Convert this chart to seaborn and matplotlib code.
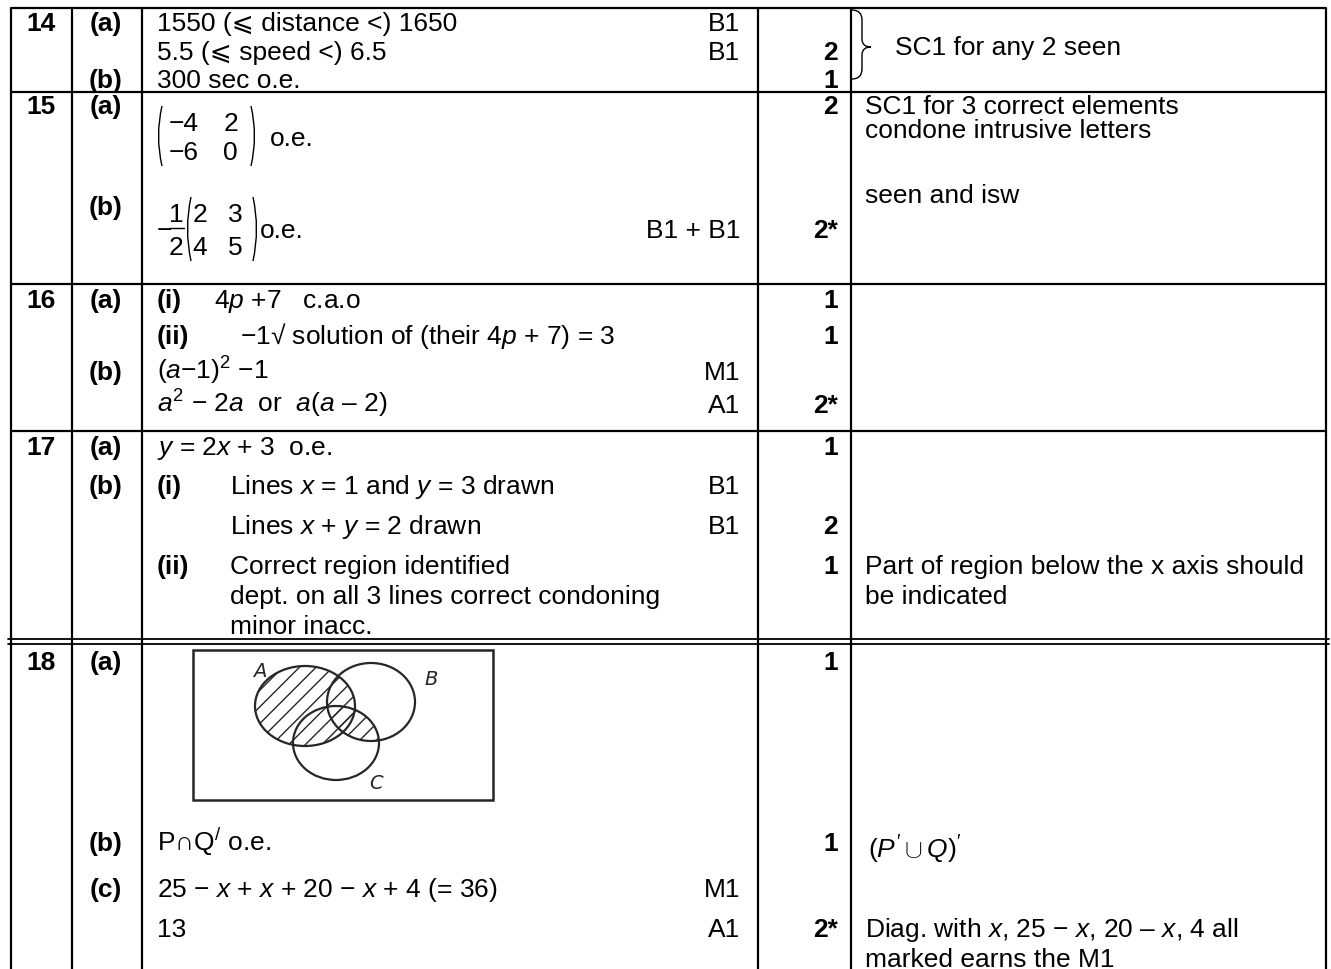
import numpy as np
import matplotlib.pyplot as plt
import seaborn as sns
from matplotlib.patches import Ellipse, Rectangle, PathPatch
from matplotlib.path import Path

# ---- table content (text) ----
numbers = ["14", "15", "16", "17", "18"]
parts = ["(a)", "(b)", "(a)", "(b)", "(a)", "(b)", "(a)", "(b)", "(a)", "(b)", "(c)"]
subparts = ["(i)", "(ii)", "(i)", "(ii)"]
answers = [
    "1550 (\u2a7d distance <) 1650",
    "5.5 (\u2a7d speed <) 6.5",
    "300 sec o.e.",
    "4$p$ +7   c.a.o",
    "\u22121\u221a solution of (their 4$p$ + 7) = 3",
    "($a$\u22121)$^{2}$ \u22121",
    "$a^{2}$ \u2212 2$a$  or  $a$($a$ \u2013 2)",
    "$y$ = 2$x$ + 3  o.e.",
    "Lines $x$ = 1 and $y$ = 3 drawn",
    "Lines $x$ + $y$ = 2 drawn",
    "Correct region identified",
    "dept. on all 3 lines correct condoning",
    "minor inacc.",
    "P\u2229Q$^{/}$ o.e.",
    "25 \u2212 $x$ + $x$ + 20 \u2212 $x$ + 4 (= 36)",
    "13",
]
codes = ["B1", "B1", "B1 + B1", "M1", "A1", "B1", "B1", "M1", "A1"]
marks = ["2", "1", "2", "2*", "1", "1", "2*", "1", "2", "1", "1", "1", "2*"]
comments = [
    "SC1 for 3 correct elements",
    "condone intrusive letters",
    "seen and isw",
    "Part of region below the x axis should",
    "be indicated",
    "Diag. with $x$, 25 \u2212 $x$, 20 \u2013 $x$, 4 all",
    "marked earns the M1",
]
brace_comment = "SC1 for any 2 seen"
matrix_a = [["\u22124", "2"], ["\u22126", "0"]]
matrix_b = [["2", "3"], ["4", "5"]]

# ---- layout (pixels, y downwards) ----
W, H = 1331, 970
col_x = [11, 72, 142, 758, 851, 1326]
top_y = 9
row_sep_y = [93, 285, 432]
double_y = [640, 645]
number_y = [22, 105, 299, 446, 661]
part_y = [22, 79, 105, 206, 299, 371, 446, 485, 661, 842, 888]
subpart_y = [299, 335, 485, 565]
answer_x = [157, 157, 157, 214, 240, 157, 157, 157, 230, 230, 230, 230, 230, 157, 157, 157]
answer_y = [22, 51, 79, 299, 335, 371, 404, 446, 485, 525, 565, 595, 625, 842, 888, 928]
code_y = [22, 51, 229, 371, 404, 485, 525, 888, 928]
mark_y = [51, 79, 105, 229, 299, 335, 404, 446, 525, 565, 661, 842, 928]
comment_y = [105, 129, 194, 565, 595, 928, 958]

sns.set_theme(style="white")
plt.rcParams['font.family'] = ['Liberation Sans', 'DejaVu Sans']
plt.rcParams['mathtext.fontset'] = 'custom'
plt.rcParams['mathtext.rm'] = 'Liberation Sans'
plt.rcParams['mathtext.it'] = 'Liberation Sans:italic'
plt.rcParams['mathtext.bf'] = 'Liberation Sans:bold'
plt.rcParams['hatch.linewidth'] = 1.0

FS = 19
BASE = 9  # text centre -> baseline offset


def put(x, y, s, ha='left', bold=False, size=FS, **kw):
    ax.text(x, y + BASE, s, ha=ha, va='baseline', fontsize=size,
            fontweight='bold' if bold else 'normal', color='black', **kw)


def paren(x, y0, y1, side):
    # tall matrix bracket drawn as a quadratic curve
    d = -7 if side == 'l' else 7
    verts = [(x, y0), (x + d, (y0 + y1) / 2), (x, y1)]
    ax.add_patch(PathPatch(Path(verts, [Path.MOVETO, Path.CURVE3, Path.CURVE3]),
                           fill=False, lw=1.0, color='black'))


fig = plt.figure(figsize=(W / 100, H / 100), dpi=100)
ax = fig.add_axes([0, 0, 1, 1])
ax.set_xlim(0, W)
ax.set_ylim(H, 0)
ax.axis('off')

# grid lines
lw = 1.6
for x in col_x:
    ax.plot([x, x], [top_y, H], color='black', lw=lw, solid_capstyle='butt')
for y in [top_y] + row_sep_y:
    ax.plot([col_x[0], col_x[-1]], [y, y], color='black', lw=lw)
for y in double_y:
    ax.plot([col_x[0] - 3, col_x[-1] + 3], [y, y], color='black', lw=1.3)

# question numbers and part labels
for s, y in zip(numbers, number_y):
    put(41, y, s, ha='center', bold=True)
for s, y in zip(parts, part_y):
    put(106, y, s, ha='center', bold=True)
for s, y in zip(subparts, subpart_y):
    put(157, y, s, bold=True)

# answers
for s, x, y in zip(answers, answer_x, answer_y):
    put(x, y, s)

# 15(a) matrix
for r, yy in enumerate([122, 151]):
    put(199, yy, matrix_a[r][0], ha='right')
    put(238, yy, matrix_a[r][1], ha='right')
paren(162, 107, 167, 'l')
paren(251, 107, 167, 'r')
put(270, 137, "o.e.")

# 15(b) fraction and matrix
put(157, 229, "\u2212")
put(176, 213, "1", ha='center')
put(176, 246, "2", ha='center')
ax.plot([169, 184], [229, 229], color='black', lw=1.0)
for r, yy in enumerate([213, 246]):
    put(207, yy, matrix_b[r][0], ha='right')
    put(243, yy, matrix_b[r][1], ha='right')
paren(191, 198, 262, 'l')
paren(253, 198, 262, 'r')
put(260, 229, "o.e.")

# method codes, marks, comments
for s, y in zip(codes, code_y):
    put(740, y, s, ha='right')
for s, y in zip(marks, mark_y):
    put(838, y, s, ha='right', bold=True)
for s, y in zip(comments, comment_y):
    put(865, y, s)
put(868, 850, r"$(P'\cup Q)'$")

# curly brace for 14
bv = [(852, 11), (862, 11), (862, 21), (862, 40), (862, 48), (871, 48),
      (862, 48), (862, 56), (862, 70), (862, 80), (852, 80)]
bc = [Path.MOVETO, Path.CURVE3, Path.CURVE3, Path.LINETO, Path.CURVE3, Path.CURVE3,
      Path.CURVE3, Path.CURVE3, Path.LINETO, Path.CURVE3, Path.CURVE3]
ax.add_patch(PathPatch(Path(bv, bc), fill=False, lw=1.0, color='black'))
put(895, 46, brace_comment)

# 18(a) Venn sketch: A u (B n C) shaded
ink = '#262626'
ax.add_patch(Rectangle((193, 651), 300, 150, fill=False, lw=1.8, ec=ink))
ell_a = Ellipse((305, 707), 100, 80, fill=False, lw=1.6, ec=ink, hatch='//')
ell_b = Ellipse((371, 703), 88, 78, fill=False, lw=1.6, ec=ink)
ell_c = Ellipse((336, 744), 86, 74, fill=False, lw=1.6, ec=ink)
for e in (ell_a, ell_b, ell_c):
    ax.add_patch(e)
shade_bc = Ellipse((336, 744), 86, 74, fill=False, lw=0, ec=ink, hatch='//')
ax.add_patch(shade_bc)
shade_bc.set_clip_path(ell_b)
for s, (x, y) in zip(["A", "B", "C"], [(260, 672), (431, 680), (376, 784)]):
    ax.text(x, y, s, ha='center', va='center', fontsize=14, style='italic',
            family='DejaVu Sans', color=ink)

fig.savefig('out.png', dpi=100)
